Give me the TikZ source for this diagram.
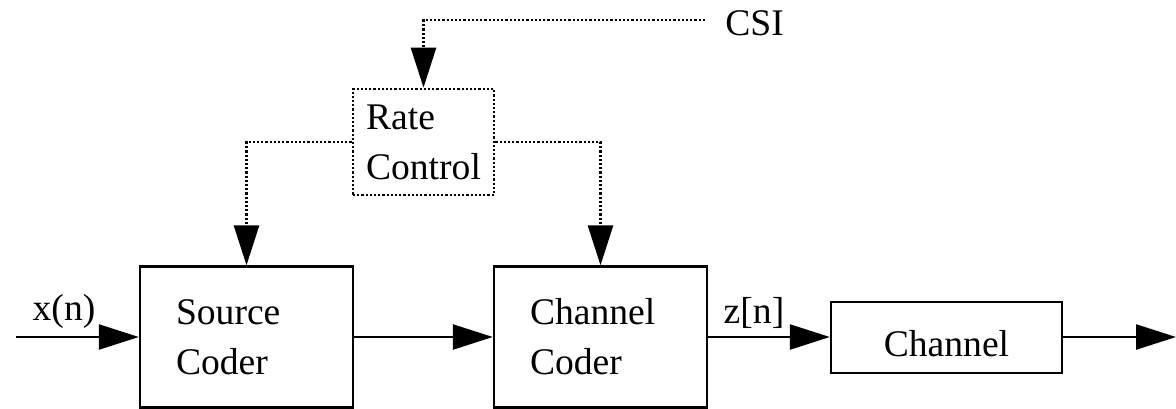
\documentclass[tikz,border=0pt]{standalone}
\usepackage{fontspec}
\setmainfont{Liberation Serif}
\usetikzlibrary{arrows.meta}
\tikzset{
	blk/.style={draw, line width=1.2pt, inner sep=0pt},
	coder/.style={blk, minimum height=70.5pt, text width=70.5pt, inner xsep=18pt, align=left},
	sig/.style={line width=1.2pt, -{Triangle[length=20pt,width=12.5pt]}},
	dots/.style={line width=1.4pt, dash pattern=on 1.1pt off 1pt},
	ctl/.style={dots, -{Triangle[length=20pt,width=12.5pt]}},
}
\begin{document}
\begin{tikzpicture}[x=0.5pt, y=-0.5pt, font=\fontsize{18.8}{25}\selectfont]
	\useasboundingbox (0,0) rectangle (1176,408);
	% blocks
	\node[coder] (src) at (246.5,337) {Source\\Coder};
	\node[coder] (chc) at (600.5,337) {Channel\\Coder};
	\node[blk, minimum width=115.5pt, minimum height=35.5pt, text height=18.5pt, text depth=0pt] (chn) at (946.5,337.5) {Channel};
	\node[blk, dots, minimum width=70.5pt, minimum height=53pt, align=left] (rc) at (423.5,142) {Rate\\Control};
	% labels
	\node[anchor=base] (xin) at (64,320) {x(n)};
	\node[anchor=base] (zout) at (754,323) {z[n]};
	\node[anchor=base west, inner xsep=10pt, text height=15pt, text depth=0pt] (csi) at (705,35) {CSI};
	\coordinate (in) at (16,337);
	\coordinate (out) at (1176,337);
	% signal path
	\draw[sig] (in) -- (src.west);
	\draw[sig] (src.east) -- (chc.west);
	\draw[sig] (chc.east) -- (chc.east-|chn.west);
	\draw[sig] (chn.east|-out) -- (out);
	% control
	\draw[ctl] (csi.west) -| (rc.north);
	\draw[ctl] (rc.west) -| (src.north);
	\draw[ctl] (rc.east) -| (chc.north);
\end{tikzpicture}
\end{document}
